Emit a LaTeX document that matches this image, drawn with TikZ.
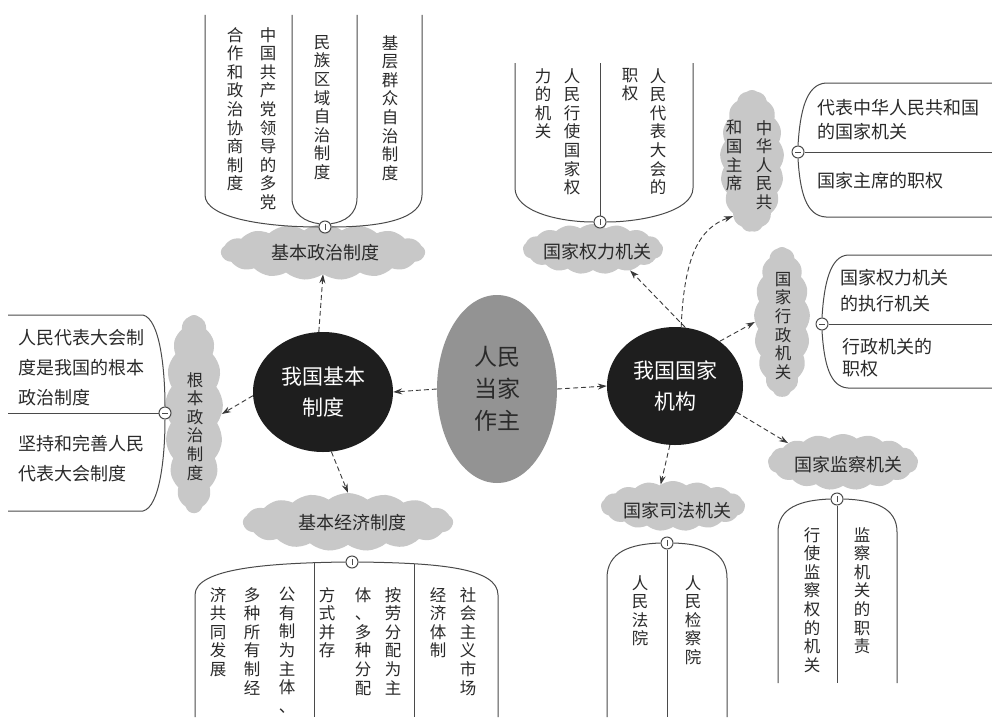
\documentclass[tikz,border=0pt]{standalone}
\usepackage{fontspec}
\newfontfamily\cjk{Noto Sans CJK SC}
\usetikzlibrary{shapes.geometric,shapes.symbols,arrows.meta}
\definecolor{lc}{HTML}{4A4A4A}
\definecolor{ac}{HTML}{3A3A3A}
\definecolor{cloudc}{HTML}{C8C8C8}
\definecolor{midc}{HTML}{939393}
\definecolor{darkc}{HTML}{1E1E1E}
\definecolor{tc}{HTML}{2A2A2A}
\def\myvt#1{\myvtf#1\relax}
\def\myvtf#1{#1\myvtx}
\def\myvtx#1{\ifx#1\relax\let\myvtnext\relax\else\def\myvtnext{\\#1\myvtx}\fi\myvtnext}
\begin{document}
\begin{tikzpicture}[x=1pt,y=-1pt,
  ln/.style={draw=lc, line width=1pt},
  arr/.style={draw=ac, line width=0.9pt, dash pattern=on 5pt off 3pt, -{Stealth[length=9pt,width=6pt]}},
  cl/.style={cloud, cloud puffs=17, cloud puff arc=75, cloud ignores aspect, fill=cloudc, draw=none, inner sep=0},
  knob/.style={circle, draw=lc, fill=white, line width=1pt, minimum size=12pt, inner sep=0},
  vcol/.style={font=\cjk\fontsize{16.5}{18.6}\selectfont, align=center, anchor=north, inner sep=0, text=tc},
  htxt/.style={align=left, anchor=north west, inner sep=0, text=tc},
  ctxt/.style={font=\cjk\fontsize{18}{20}\selectfont, inner sep=0, text=tc},
  bigell/.style={ellipse, inner sep=0, align=center}
]
\useasboundingbox (0,0) rectangle (992,717);
\fill[white] (0,0) rectangle (992,717);

% clouds
\node[cl, minimum width=204pt, minimum height=56pt] (cz1) at (323,252) {};
\node[cl, minimum width=140pt, minimum height=50pt] (cp1) at (593,249) {};
\node[cl, minimum width=64pt, minimum height=142pt] (cp2) at (752,161) {};
\node[cl, minimum width=56pt, minimum height=150pt] (cp3) at (782,322) {};
\node[cl, minimum width=58pt, minimum height=198pt] (cz2) at (194,414) {};
\node[cl, minimum width=210pt, minimum height=58pt] (cz3) at (348,522) {};
\node[cl, minimum width=144pt, minimum height=50pt] (cp5) at (673,506) {};
\node[cl, minimum width=150pt, minimum height=56pt] (cp4) at (843,462) {};

% cloud texts
\node[ctxt] (tz1) at (325,253) {基本政治制度};
\node[ctxt] (tp1) at (597,252) {国家权力机关};
\node[vcol] (tp2a) at (764,120) {\myvt{中华人民共}};
\node[vcol] (tp2b) at (734,120) {\myvt{和国主席}};
\node[vcol] (tp3) at (783,272) {\myvt{国家行政机关}};
\node[vcol] (tz2) at (195,372) {\myvt{根本政治制度}};
\node[ctxt] (tz3) at (352,523) {基本经济制度};
\node[ctxt] (tp5) at (677,511) {国家司法机关};
\node[ctxt] (tp4) at (848,465) {国家监察机关};

% main ellipses
\node[bigell, fill=midc, minimum width=120pt, minimum height=188pt, font=\cjk\fontsize{23}{32}\selectfont, text=tc] (ctr) at (497,389) {人民\\当家\\作主};
\node[bigell, fill=darkc, minimum width=140pt, minimum height=120pt, font=\cjk\fontsize{21}{31}\selectfont, text=white] (lft) at (323,392) {我国基本\\制度};
\node[bigell, fill=darkc, minimum width=136pt, minimum height=118pt, font=\cjk\fontsize{21}{31}\selectfont, text=white] (rgt) at (675,386) {我国国家\\机构};

% knobs
\node[knob] (k1) at (325,227) {};
\node[knob] (k2) at (600,222) {};
\node[knob] (k3) at (798,152) {};
\node[knob] (k4) at (822,324) {};
\node[knob] (k5) at (165,413) {};
\node[knob] (k6) at (352,562) {};
\node[knob] (k7) at (667,543) {};
\node[knob] (k8) at (837,499) {};
\foreach \k in {k1,k2,k6,k7,k8}{\draw[lc, line width=0.7pt] ([yshift=3pt]\k.center) -- ([yshift=-3pt]\k.center);}
\foreach \k in {k3,k4,k5}{\draw[lc, line width=0.7pt] ([xshift=-3pt]\k.center) -- ([xshift=3pt]\k.center);}

% bracket: 基本政治制度
\draw[ln] (205,15) -- (205,195) .. controls (205,218) and (265,227) .. (k1.180);
\draw[ln] (292,15) -- (292,198) .. controls (292,214) and (305,222) .. (k1.150);
\draw[ln] (357,15) -- (357,198) .. controls (357,214) and (345,222) .. (k1.30);
\draw[ln] (422,15) -- (422,195) .. controls (422,218) and (385,227) .. (k1.0);
\node[vcol] (a1) at (268,27) {\myvt{中国共产党领导的多党}};
\node[vcol] (a2) at (235,27) {\myvt{合作和政治协商制度}};
\node[vcol] (a3) at (322,35) {\myvt{民族区域自治制度}};
\node[vcol] (a4) at (390,35) {\myvt{基层群众自治制度}};

% bracket: 国家权力机关
\draw[ln] (515,63) -- (515,188) .. controls (515,212) and (560,222) .. (k2.180);
\draw[ln] (600,63) -- (k2.north);
\draw[ln] (693,63) -- (693,188) .. controls (693,212) and (640,222) .. (k2.0);
\node[vcol] (b1) at (572,68) {\myvt{人民行使国家权}};
\node[vcol] (b2) at (543,68) {\myvt{力的机关}};
\node[vcol] (b3) at (658,68) {\myvt{人民代表大会的}};
\node[vcol] (b4) at (630,68) {\myvt{职权}};

% bracket: 中华人民共和国主席
\draw[ln] (k3.90) .. controls (800,112) and (806,84) .. (826,83) -- (992,83);
\draw[ln] (k3.east) -- (992,152);
\draw[ln] (k3.-90) .. controls (800,192) and (806,216) .. (826,217) -- (992,217);
\node[htxt, font=\cjk\fontsize{18}{24.5}\selectfont] (h1) at (817,99) {代表中华人民共和国\\的国家机关};
\node[htxt, font=\cjk\fontsize{18}{24}\selectfont] (h2) at (817,172) {国家主席的职权};

% bracket: 国家行政机关
\draw[ln] (k4.90) .. controls (824,284) and (830,256) .. (848,255) -- (992,255);
\draw[ln] (k4.east) -- (992,324);
\draw[ln] (k4.-90) .. controls (824,364) and (830,387) .. (848,388) -- (992,388);
\node[htxt, font=\cjk\fontsize{18}{26}\selectfont] (h3) at (840,269) {国家权力机关\\的执行机关};
\node[htxt, font=\cjk\fontsize{18}{22}\selectfont] (h4) at (842,338) {行政机关的\\职权};

% bracket: 根本政治制度
\draw[ln] (8,315) -- (143,315) .. controls (160,319) and (165,370) .. (k5.north);
\draw[ln] (8,413) -- (k5.west);
\draw[ln] (8,511) -- (143,511) .. controls (160,507) and (165,456) .. (k5.south);
\node[htxt, font=\cjk\fontsize{18}{30}\selectfont] (h5) at (18,329) {人民代表大会制\\度是我国的根本\\政治制度};
\node[htxt, font=\cjk\fontsize{18}{30}\selectfont] (h6) at (18,435) {坚持和完善人民\\代表大会制度};

% bracket: 基本经济制度
\draw[ln] (k6.180) .. controls (270,563) and (195,568) .. (195,595) -- (195,717);
\draw[ln] (314,563) -- (314,717);
\draw[ln] (414,564) -- (414,717);
\draw[ln] (k6.0) .. controls (440,563) and (498,568) .. (498,595) -- (498,717);
\node[vcol] (e1) at (287,587) {\myvt{公有制为主体、}};
\node[vcol] (e2) at (252,587) {\myvt{多种所有制经}};
\node[vcol] (e3) at (218,587) {\myvt{济共同发展}};
\node[vcol] (e4) at (393,587) {\myvt{按劳分配为主}};
\node[vcol] (e5) at (363,587) {\myvt{体、多种分配}};
\node[vcol] (e6) at (327,587) {\myvt{方式并存}};
\node[vcol] (e7) at (468,587) {\myvt{社会主义市场}};
\node[vcol] (e8) at (438,587) {\myvt{经济体制}};

% bracket: 国家司法机关
\draw[ln] (k7.180) .. controls (630,544) and (607,552) .. (607,578) -- (607,717);
\draw[ln] (k7.south) -- (667,717);
\draw[ln] (k7.0) .. controls (705,544) and (727,552) .. (727,578) -- (727,717);
\node[vcol] (f1) at (640,575) {\myvt{人民法院}};
\node[vcol] (f2) at (693,575) {\myvt{人民检察院}};

% bracket: 国家监察机关
\draw[ln] (k8.180) .. controls (800,500) and (778,508) .. (778,532) -- (778,683);
\draw[ln] (k8.south) -- (837,683);
\draw[ln] (k8.0) .. controls (875,500) and (897,508) .. (897,532) -- (897,683);
\node[vcol] (g1) at (812,527) {\myvt{行使监察权的机关}};
\node[vcol] (g2) at (862,527) {\myvt{监察机关的职责}};

% arrows
\draw[arr] (ctr.west) -- (lft.east);
\draw[arr] (ctr.east) -- (rgt.west);
\draw[arr] (lft.94) -- (cz1.south);
\draw[arr] (lft.183) -- (cz2.east);
\draw[arr] (lft.-82) -- (cz3.north);
\draw[arr] (rgt.80) -- (cp1.-30);
\draw[arr] (rgt.84) .. controls (684,255) and (700,228) .. (cp2.-109);
\draw[arr] (rgt.45) -- (cp3.west);
\draw[arr] (rgt.-23) -- (cp4.161);
\draw[arr] (rgt.-95) -- (cp5.120);
\end{tikzpicture}
\end{document}
